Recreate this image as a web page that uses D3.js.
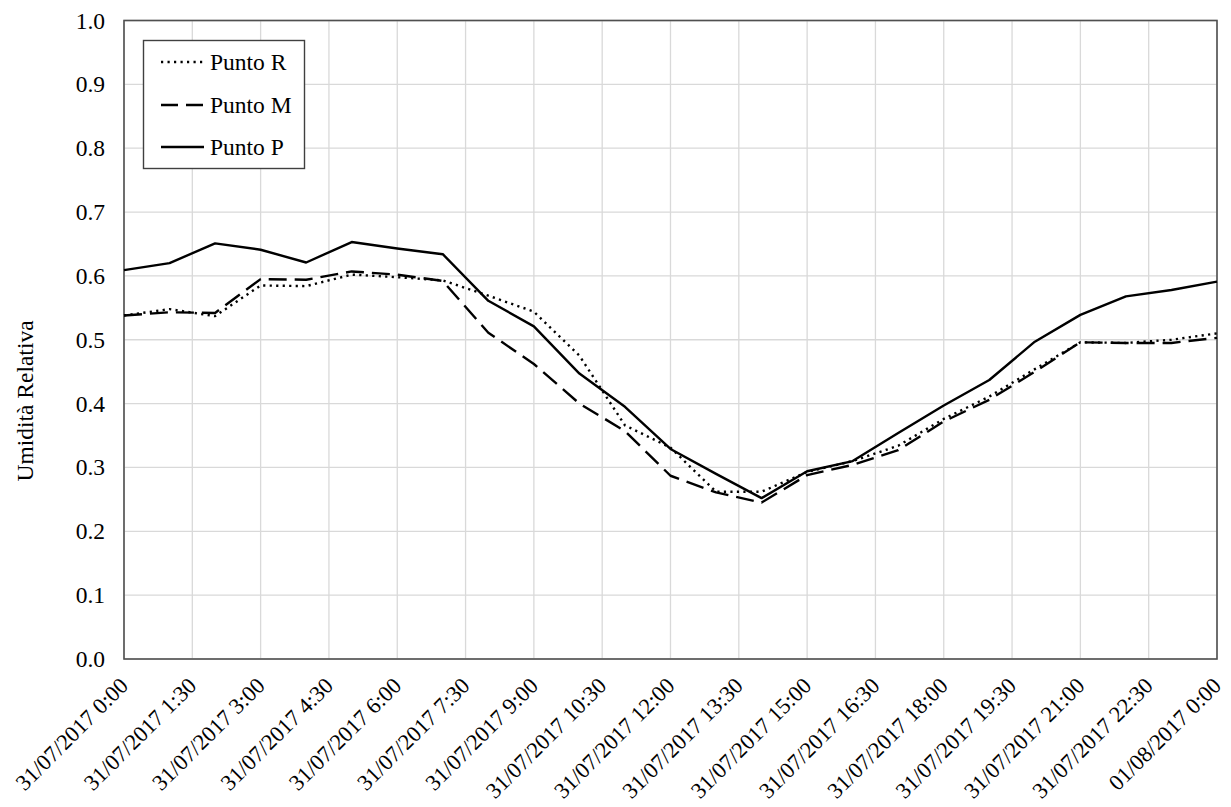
<!DOCTYPE html>
<html>
<head>
<meta charset="utf-8">
<script src="https://cdn.jsdelivr.net/npm/d3@7"></script>
<style>
  html, body { margin: 0; padding: 0; background: #fff; }
  svg { display: block; font-family: "Liberation Serif", "Times New Roman", serif; }
</style>
</head>
<body>
<svg id="chart" width="1231" height="807"></svg>
<script>
// Hourly readings, 31/07/2017 0:00 to 01/08/2017 0:00
const hours = [0,1,2,3,4,5,6,7,8,9,10,11,12,13,14,15,16,17,18,19,20,21,22,23,24];

const puntoR = [0.538, 0.548, 0.537, 0.585, 0.584, 0.602, 0.598, 0.593, 0.569, 0.544,
                0.475, 0.366, 0.331, 0.262, 0.262, 0.293, 0.310, 0.334, 0.376, 0.411,
                0.454, 0.496, 0.495, 0.500, 0.510];
const puntoM = [0.538, 0.543, 0.542, 0.595, 0.594, 0.607, 0.602, 0.592, 0.511, 0.462,
                0.400, 0.357, 0.287, 0.261, 0.245, 0.288, 0.304, 0.327, 0.372, 0.406,
                0.450, 0.496, 0.495, 0.495, 0.503];
const puntoP = [0.609, 0.620, 0.651, 0.641, 0.621, 0.653, 0.643, 0.634, 0.561, 0.521,
                0.447, 0.395, 0.329, 0.290, 0.252, 0.294, 0.310, 0.354, 0.397, 0.437,
                0.497, 0.539, 0.568, 0.578, 0.591];

const seriesNames = ["Punto R", "Punto M", "Punto P"];

// x ticks every 1.5 h
const xTickHours = [0, 1.5, 3, 4.5, 6, 7.5, 9, 10.5, 12, 13.5, 15, 16.5, 18, 19.5, 21, 22.5, 24];
const xTickLabels = ["31/07/2017 0:00", "31/07/2017 1:30", "31/07/2017 3:00", "31/07/2017 4:30",
  "31/07/2017 6:00", "31/07/2017 7:30", "31/07/2017 9:00", "31/07/2017 10:30",
  "31/07/2017 12:00", "31/07/2017 13:30", "31/07/2017 15:00", "31/07/2017 16:30",
  "31/07/2017 18:00", "31/07/2017 19:30", "31/07/2017 21:00", "31/07/2017 22:30",
  "01/08/2017 0:00"];
const yTicks = [0, 0.1, 0.2, 0.3, 0.4, 0.5, 0.6, 0.7, 0.8, 0.9, 1.0];
const yTitle = "Umidità Relativa";

const FONT = "Liberation Serif, Times New Roman, serif";
const FS = 23.5;
const FS_X = 22.5;

const svg = d3.select("#chart");
const plotLeft = 124, plotRight = 1217, plotTop = 20.5, plotBottom = 659;

const x = d3.scaleLinear().domain([0, 24]).range([plotLeft, plotRight]);
const y = d3.scaleLinear().domain([0, 1]).range([plotBottom, plotTop]);

// gridlines
const grid = svg.append("g");
grid.selectAll("line.v").data(xTickHours).join("line").attr("class", "v")
  .attr("x1", d => x(d)).attr("x2", d => x(d))
  .attr("y1", plotTop).attr("y2", plotBottom)
  .attr("stroke", "#d9d9d9").attr("stroke-width", 1.3);
grid.selectAll("line.h").data(yTicks).join("line").attr("class", "h")
  .attr("x1", plotLeft).attr("x2", plotRight)
  .attr("y1", d => y(d)).attr("y2", d => y(d))
  .attr("stroke", "#d9d9d9").attr("stroke-width", 1.3);

// y axis labels
const yAxis = d3.axisLeft(y).tickValues(yTicks).tickFormat(d3.format(".1f")).tickSize(0).tickPadding(19);
const gy = svg.append("g").attr("transform", `translate(${plotLeft},0)`).call(yAxis);
gy.select(".domain").remove();
gy.selectAll("text").attr("font-size", FS).attr("fill", "#000").attr("font-family", FONT);

// x axis labels, rotated
const xAxis = d3.axisBottom(x).tickValues(xTickHours)
  .tickFormat((d, i) => xTickLabels[i]).tickSize(0).tickPadding(0);
const gx = svg.append("g").attr("transform", `translate(0,${plotBottom})`).call(xAxis);
gx.select(".domain").remove();
gx.selectAll("text")
  .attr("font-size", FS_X).attr("fill", "#000").attr("font-family", FONT)
  .attr("text-anchor", "end")
  .attr("dy", 0)
  .attr("y", 0)
  .attr("transform", "translate(5,28) rotate(-45)");

// plot frame
svg.append("rect")
  .attr("x", plotLeft).attr("y", plotTop)
  .attr("width", plotRight - plotLeft).attr("height", plotBottom - plotTop)
  .attr("fill", "none").attr("stroke", "#505050").attr("stroke-width", 1.6);

// series
const styles = [
  { data: puntoR, dash: "2.2 4.3" },
  { data: puntoM, dash: "18 8" },
  { data: puntoP, dash: null }
];
const line = d3.line().x((d, i) => x(hours[i])).y(d => y(d));

styles.forEach(s => {
  svg.append("path")
    .datum(s.data)
    .attr("d", line)
    .attr("fill", "none")
    .attr("stroke", "#000")
    .attr("stroke-width", 2.4)
    .attr("stroke-linejoin", "round")
    .attr("stroke-dasharray", s.dash);
});

// legend
const lg = svg.append("g");
lg.append("rect").attr("x", 143.5).attr("y", 40.5).attr("width", 161).attr("height", 128)
  .attr("fill", "#fff").attr("stroke", "#404040").attr("stroke-width", 1.4);
const rowsY = [62, 105, 147];
seriesNames.forEach((name, i) => {
  lg.append("line")
    .attr("x1", 161).attr("x2", 204)
    .attr("y1", rowsY[i]).attr("y2", rowsY[i])
    .attr("stroke", "#000").attr("stroke-width", 2.4)
    .attr("stroke-dasharray", i === 0 ? "2.2 4.3" : (i === 1 ? "17 8" : null));
  lg.append("text")
    .attr("x", 210).attr("y", rowsY[i] + 8)
    .attr("font-size", FS).attr("font-family", FONT)
    .text(name);
});

// y axis title
svg.append("text")
  .attr("transform", "translate(33,401) rotate(-90)")
  .attr("text-anchor", "middle")
  .attr("font-size", FS).attr("font-family", FONT)
  .text(yTitle);
</script>
</body>
</html>
